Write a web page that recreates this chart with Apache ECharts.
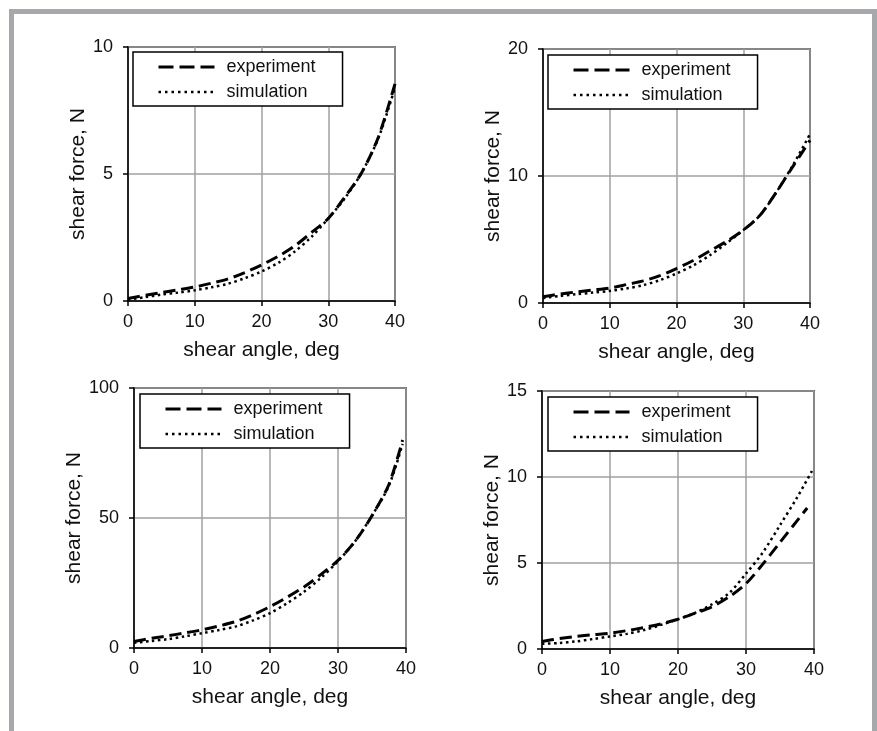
<!DOCTYPE html>
<html><head><meta charset="utf-8">
<script src="https://cdn.jsdelivr.net/npm/echarts@6/dist/echarts.min.js"></script>
<style>html,body{margin:0;padding:0;background:#fff}#c{width:877px;height:731px}</style>
</head><body><div id="c"></div>
<script>
// ---- data ----
const angles = [0, 2.5, 5, 7.5, 10, 12.5, 15, 17.5, 20, 22.5, 25, 27.5, 30, 32.5, 35, 37.5, 40];
const anglesC = [0, 2.5, 5, 7.5, 10, 12.5, 15, 17.5, 20, 22.5, 25, 27.5, 30, 32.5, 35, 37.5, 39.5];
const anglesDexp = [0, 2.5, 5, 7.5, 10, 12.5, 15, 17.5, 20, 22.5, 25, 27.5, 30, 32.5, 35, 37.5, 39];
const anglesDsim = [0, 2.5, 5, 7.5, 10, 12.5, 15, 17.5, 20, 22.5, 25, 27.5, 30, 32.5, 35, 37.5, 39.7];

const exp1 = [0.1, 0.22, 0.33, 0.44, 0.55, 0.7, 0.87, 1.12, 1.42, 1.76, 2.17, 2.7, 3.25, 4.1, 5.05, 6.45, 8.55];
const sim1 = [0.05, 0.15, 0.25, 0.33, 0.42, 0.54, 0.68, 0.9, 1.16, 1.5, 1.95, 2.53, 3.25, 4.05, 5.05, 6.4, 8.4];

const exp2 = [0.5, 0.7, 0.87, 1.02, 1.18, 1.45, 1.74, 2.15, 2.71, 3.35, 4.1, 4.85, 5.74, 6.9, 8.76, 10.8, 12.8];
const sim2 = [0.4, 0.55, 0.69, 0.82, 0.95, 1.15, 1.4, 1.8, 2.32, 2.95, 3.76, 4.7, 5.74, 6.9, 8.76, 10.9, 13.3];

const exp3 = [2.5, 3.7, 4.7, 5.8, 7.0, 8.5, 10.2, 12.8, 15.9, 19.5, 23.5, 28.3, 33.7, 41, 50.9, 63, 80];
const sim3 = [2.0, 2.7, 3.4, 4.5, 5.7, 6.9, 8.3, 10.6, 13.4, 17.2, 21.6, 27, 33.4, 41, 50.9, 62.5, 78.5];

const exp4 = [0.44, 0.6, 0.73, 0.83, 0.92, 1.07, 1.25, 1.46, 1.73, 2.08, 2.46, 3.03, 3.8, 4.95, 6.2, 7.45, 8.2];
const sim4 = [0.3, 0.35, 0.44, 0.58, 0.73, 0.88, 1.1, 1.4, 1.73, 2.1, 2.6, 3.25, 4.38, 5.63, 7.2, 8.8, 10.35];

const xTicks = { min: 0, max: 40, interval: 10 };
const yScales = [
  { min: 0, max: 10, interval: 5 },
  { min: 0, max: 20, interval: 10 },
  { min: 0, max: 100, interval: 50 },
  { min: 0, max: 15, interval: 5 }
];
const legendNames = ['experiment', 'simulation'];
const xTitle = 'shear angle, deg';
const yTitle = 'shear force, N';

// ---- layout ----
const FONT = '"Liberation Sans", Arial, sans-serif';
const grids = [
  { left: 128, top: 47, width: 267, height: 254 },
  { left: 543, top: 49, width: 267, height: 254 },
  { left: 134, top: 388, width: 272, height: 260 },
  { left: 542, top: 391, width: 272, height: 258 }
];
const legendPos = [
  { left: 133, top: 52 },
  { left: 548, top: 55 },
  { left: 140, top: 394 },
  { left: 548, top: 397 }
];

const pairs = (xs, ys) => xs.map((x, i) => [x, ys[i]]);
const seriesData = [
  [pairs(angles, exp1), pairs(angles, sim1)],
  [pairs(angles, exp2), pairs(angles, sim2)],
  [pairs(anglesC, exp3), pairs(anglesC, sim3)],
  [pairs(anglesDexp, exp4), pairs(anglesDsim, sim4)]
];

const dashed = { color: '#000', width: 3, type: [12, 6], cap: 'butt' };
const dotted = { color: '#000', width: 2.5, type: [2.5, 3.5], cap: 'butt' };

const xAxes = [], yAxes = [], series = [], legends = [];
grids.forEach((g, i) => {
  xAxes.push({
    type: 'value', gridIndex: i, min: xTicks.min, max: xTicks.max, interval: xTicks.interval,
    name: xTitle, nameLocation: 'middle', nameGap: 39,
    nameTextStyle: { fontSize: 21, fontFamily: FONT, color: '#111' },
    axisLine: { show: true, onZero: false, lineStyle: { color: '#000', width: 1.5 } },
    axisTick: { show: true, length: 5, lineStyle: { color: '#000', width: 1.5 } },
    axisLabel: { fontSize: 18, fontFamily: FONT, color: '#111', margin: 12 },
    splitLine: { show: true, lineStyle: { color: '#a0a0a0', width: 1.5 } }
  });
  yAxes.push({
    type: 'value', gridIndex: i, min: yScales[i].min, max: yScales[i].max, interval: yScales[i].interval,
    name: yTitle, nameLocation: 'middle', nameGap: 39,
    nameTextStyle: { fontSize: 21, fontFamily: FONT, color: '#111' },
    axisLine: { show: true, lineStyle: { color: '#000', width: 1.5 } },
    axisTick: { show: true, length: 5, lineStyle: { color: '#000', width: 1.5 } },
    axisLabel: { fontSize: 18, fontFamily: FONT, color: '#111', margin: 15 },
    splitLine: { show: true, lineStyle: { color: '#a0a0a0', width: 1.5 } }
  });
  series.push({
    name: legendNames[0], type: 'line', xAxisIndex: i, yAxisIndex: i,
    data: seriesData[i][0], symbol: 'none', smooth: 0.3, lineStyle: dashed,
    itemStyle: { color: '#000' }, z: 3
  });
  series.push({
    name: legendNames[1], type: 'line', xAxisIndex: i, yAxisIndex: i,
    data: seriesData[i][1], symbol: 'none', smooth: 0.3, lineStyle: dotted,
    itemStyle: { color: '#000' }, z: 3
  });
  legends.push({
    left: legendPos[i].left, top: legendPos[i].top, orient: 'vertical',
    data: [
      { name: legendNames[0], itemStyle: { opacity: 0 }, lineStyle: { color: '#000', width: 3, type: [15, 6], cap: 'butt' } },
      { name: legendNames[1], itemStyle: { opacity: 0 }, lineStyle: { color: '#000', width: 2.5, type: [2.5, 4], cap: 'butt' } }
    ],
    selectedMode: false,
    itemWidth: 56, itemHeight: 14, itemGap: 7,
    padding: [6, 27, 5, 24],
    borderColor: '#000', borderWidth: 1.5, backgroundColor: '#fff',
    textStyle: { fontSize: 18, fontFamily: FONT, color: '#111', padding: [0, 0, 0, 7], lineHeight: 18 },
    z: 10
  });
});

const chart = echarts.init(document.getElementById('c'), null, { renderer: 'canvas' });
chart.setOption({
  animation: false,
  backgroundColor: '#fff',
  grid: grids.map(g => Object.assign({ show: true, borderColor: '#000', borderWidth: 1.5, backgroundColor: 'transparent' }, g)),
  xAxis: xAxes,
  yAxis: yAxes,
  legend: legends,
  series: series,
  graphic: [
    { type: 'rect', shape: { x: 9, y: 9, width: 868, height: 5 }, style: { fill: '#a7a8ab' }, silent: true },
    { type: 'rect', shape: { x: 9, y: 9, width: 5, height: 722 }, style: { fill: '#a7a8ab' }, silent: true },
    { type: 'rect', shape: { x: 872, y: 9, width: 5, height: 722 }, style: { fill: '#a7a8ab' }, silent: true }
  ]
});
</script></body></html>
